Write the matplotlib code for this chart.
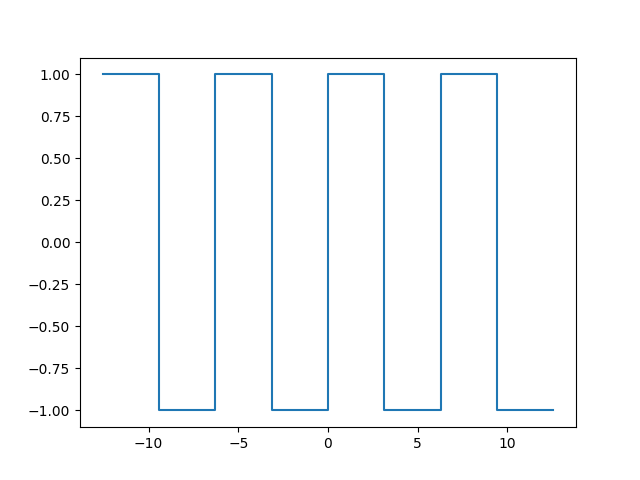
import matplotlib
matplotlib.use("Agg")
from matplotlib import pyplot as plt

# break points of the square wave (multiples of pi)
edges = [-12.566, -9.425, -6.283, -3.142, 0.0, 3.142, 6.283, 9.425, 12.566]
levels = [1, -1, 1, -1, 1, -1, 1, -1]

fig, ax = plt.subplots(figsize=(6.4, 4.8), dpi=100)
ax.step(edges, levels + [levels[-1]], where="post")
fig.savefig("out.png")
